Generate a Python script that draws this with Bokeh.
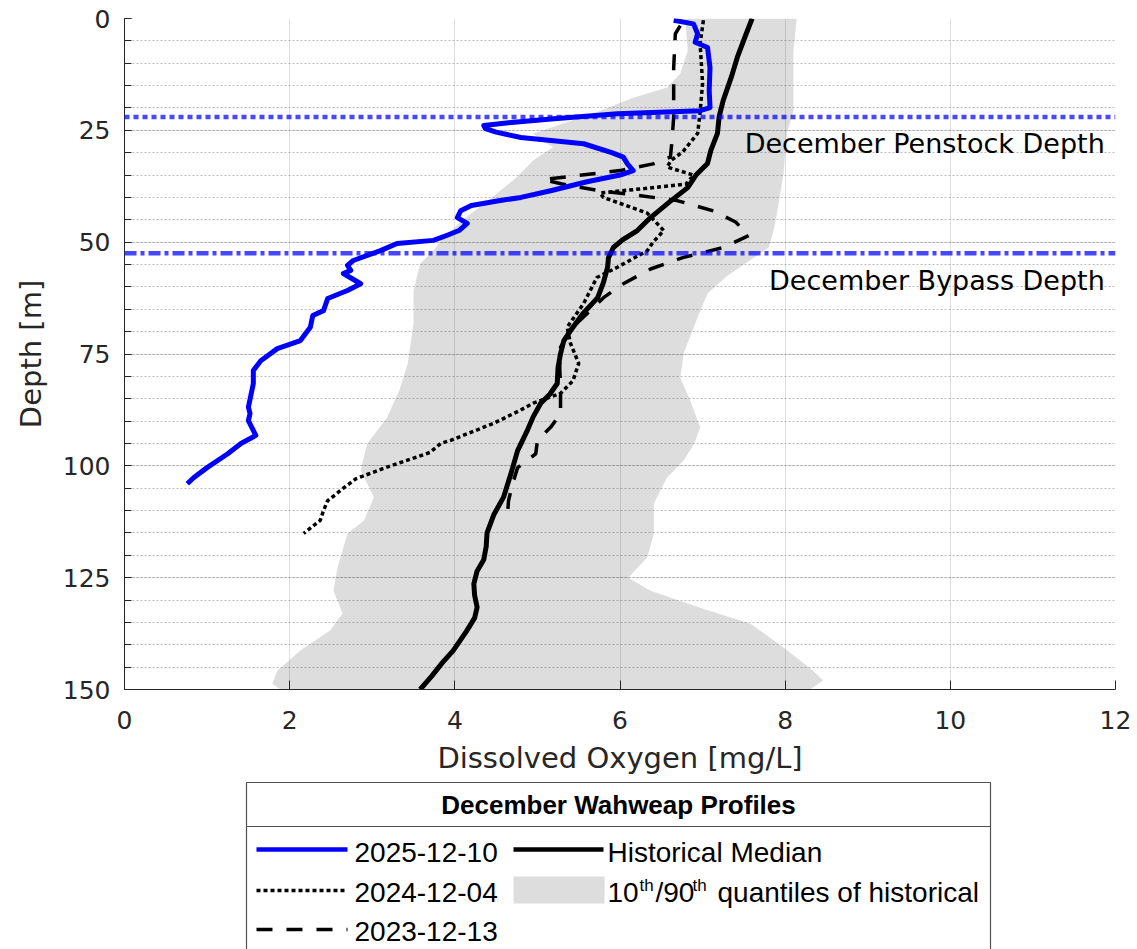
from bokeh.plotting import figure
from bokeh.layouts import column
from bokeh.models import Range1d, Span, FixedTicker
from bokeh.core.properties import value
from bokeh.embed import file_html
from bokeh.resources import INLINE

# ---------------- data ----------------
depth_2025 = [0.4, 1.2, 3.4, 5.3, 6.5, 11.0, 16.0, 19.9, 20.6, 21.3,
              22.4, 23.3, 23.9, 24.6, 25.4, 26.6, 28.0, 30.0, 31.0, 32.5,
              34.0, 35.0, 36.5, 38.5, 40.0, 40.7, 41.8, 43.0, 44.5, 45.8,
              47.4, 48.5, 49.6, 50.3, 51.9, 54.1, 55.2, 56.3, 57.0, 59.3,
              60.8, 62.6, 65.3, 66.4, 69.0, 72.0, 73.8, 76.5, 78.7, 81.6,
              86.9, 88.3, 89.9, 93.2, 95.0, 97.3, 100.4, 102.6, 104.0]
do_2025 = [6.65, 6.89, 6.94, 6.91, 7.06, 7.09, 7.08, 7.09, 6.97, 5.97,
           5.20, 4.65, 4.35, 4.37, 4.50, 4.80, 5.56, 5.90, 6.04, 6.09,
           6.16, 6.00, 5.60, 5.16, 4.80, 4.55, 4.20, 4.07, 4.03, 4.15,
           4.05, 3.90, 3.74, 3.30, 3.10, 2.77, 2.70, 2.74, 2.65, 2.86,
           2.70, 2.46, 2.41, 2.28, 2.25, 2.13, 1.85, 1.65, 1.56, 1.56,
           1.50, 1.52, 1.50, 1.59, 1.41, 1.25, 1.00, 0.84, 0.76]

depth_2024 = [0.4, 5.6, 14.5, 21.0, 25.7, 29.8, 31.7, 33.2, 35.0, 37.0,
              38.0, 39.0, 40.0, 43.5, 47.4, 50.0, 51.9, 55.6, 57.9, 63.7,
              69.0, 72.6, 77.1, 81.0, 83.8, 86.0, 87.6, 90.5, 94.3, 95.0,
              97.0, 100.4, 102.9, 105.0, 107.8, 110.0, 112.2, 115.1]
do_2024 = [7.01, 6.97, 7.00, 6.97, 6.94, 6.76, 6.62, 6.57, 6.89, 6.80,
           6.30, 5.76, 5.80, 6.33, 6.53, 6.40, 6.33, 5.97, 5.72, 5.56,
           5.36, 5.40, 5.50, 5.43, 5.28, 4.95, 4.79, 4.47, 3.95, 3.83,
           3.70, 3.16, 2.80, 2.65, 2.46, 2.41, 2.37, 2.17]

depth_2023 = [1.6, 3.4, 11.0, 22.0, 27.3, 31.0, 32.5, 34.0, 35.3, 36.0,
              37.0, 38.5, 39.5, 40.7, 43.0, 45.5, 48.5, 51.2, 53.4, 56.0,
              59.3, 62.4, 69.0, 73.5, 78.0, 82.5, 88.3, 91.4, 94.3, 97.3,
              100.4, 104.0, 107.8, 110.4]
do_2023 = [6.73, 6.67, 6.65, 6.65, 6.63, 6.61, 6.40, 6.00, 5.40, 5.07,
           5.30, 5.75, 6.20, 6.69, 7.13, 7.40, 7.56, 7.25, 6.77, 6.37,
           6.04, 5.80, 5.43, 5.28, 5.27, 5.28, 5.28, 5.16, 5.00, 4.98,
           4.76, 4.70, 4.65, 4.64]

depth_median = [0.0, 3.8, 8.7, 13.0, 18.3, 22.0, 25.7, 29.5, 32.4, 35.0,
                37.8, 41.0, 44.5, 47.4, 49.5, 51.2, 53.5, 55.6, 59.0, 62.4,
                66.0, 69.8, 72.0, 74.9, 78.0, 81.6, 84.0, 86.0, 89.0, 92.0,
                96.6, 101.7, 107.0, 111.0, 115.0, 118.0, 121.0, 123.5, 126.4, 129.0,
                131.6, 134.0, 137.0, 141.3, 144.0, 147.0, 150.0]
do_median = [7.60, 7.52, 7.42, 7.35, 7.25, 7.20, 7.18, 7.10, 7.06, 6.92,
             6.82, 6.60, 6.37, 6.21, 6.03, 5.92, 5.86, 5.85, 5.80, 5.73,
             5.55, 5.40, 5.32, 5.28, 5.25, 5.24, 5.15, 5.04, 4.95, 4.88,
             4.76, 4.68, 4.59, 4.47, 4.39, 4.38, 4.35, 4.27, 4.23, 4.24,
             4.27, 4.24, 4.14, 3.98, 3.85, 3.72, 3.58]

depth_q10 = [0.0, 7.2, 12.3, 15.4, 17.7, 20.6, 24.4, 25.7, 27.3, 28.8,
             31.7, 35.5, 40.0, 45.0, 49.6, 51.9, 54.8, 60.8, 68.2, 77.1,
             83.0, 89.2, 95.0, 101.0, 107.0, 112.2, 115.1, 122.7, 127.9, 133.0,
             136.8, 141.3, 145.8, 148.7, 150.0]
do_q10 = [6.79, 6.82, 6.73, 6.57, 6.16, 5.76, 5.16, 4.95, 5.05, 5.19,
          4.95, 4.75, 4.45, 4.10, 3.83, 3.74, 3.58, 3.50, 3.50, 3.43,
          3.33, 3.18, 2.94, 2.86, 3.02, 2.90, 2.70, 2.58, 2.53, 2.64,
          2.49, 2.13, 1.85, 1.79, 1.89]

depth_q90 = [0.0, 7.2, 20.6, 25.7, 34.7, 43.6, 47.4, 51.2, 54.0, 57.5,
             61.5, 66.8, 74.9, 80.3, 85.4, 91.4, 95.0, 98.8, 102.6, 108.4,
             115.1, 120.5, 123.0, 125.0, 127.9, 131.7, 135.3, 140.6, 145.8, 148.0,
             150.0]
do_q90 = [8.14, 8.10, 8.10, 8.02, 7.98, 7.90, 7.86, 7.80, 7.58, 7.30,
          7.06, 6.94, 6.77, 6.73, 6.85, 6.97, 6.90, 6.77, 6.57, 6.41,
          6.41, 6.33, 6.20, 6.10, 6.37, 6.97, 7.58, 7.98, 8.34, 8.46,
          8.30]

penstock_depth = 22.0
bypass_depth = 52.5

x_ticks = [0, 2, 4, 6, 8, 10, 12]
y_ticks = [0, 25, 50, 75, 100, 125, 150]
y_minor_ticks = list(range(0, 151, 5))

series_labels = ["2025-12-10", "2024-12-04", "2023-12-13"]
legend_title = "December Wahweap Profiles"

# ---------------- styles ----------------
AX = "#262626"
TICK_FONT = "DejaVu Sans"
LEG_FONT = "Liberation Sans"
GRAY = "#dddddd"
DOT = "4 3"
DASH = "16 14"

p = figure(width=1137, height=780, x_range=Range1d(0, 12), y_range=Range1d(150, 0),
           output_backend="svg", toolbar_location=None,
           min_border_left=124, min_border_right=22, min_border_top=18, min_border_bottom=91,
           x_axis_label="Dissolved Oxygen [mg/L]", y_axis_label="Depth [m]")
p.outline_line_color = None
p.background_fill_color = "white"
p.border_fill_color = "white"

p.xaxis.ticker = FixedTicker(ticks=x_ticks)
p.yaxis.ticker = FixedTicker(ticks=y_ticks, minor_ticks=y_minor_ticks)
for ax in (p.xaxis[0], p.yaxis[0]):
    ax.axis_line_color = AX
    ax.major_tick_line_color = AX
    ax.minor_tick_line_color = AX
    ax.major_tick_out = 0
    ax.minor_tick_out = 0
    ax.major_label_text_font = TICK_FONT
    ax.major_label_text_font_size = "25px"
    ax.major_label_text_color = AX
    ax.axis_label_text_font = TICK_FONT
    ax.axis_label_text_font_size = "29px"
    ax.axis_label_text_font_style = "normal"
    ax.axis_label_text_color = AX
p.xaxis.major_tick_in = 9
p.xaxis.minor_tick_in = 0
p.xaxis.major_label_standoff = 21
p.xaxis.axis_label_standoff = 9
p.yaxis.major_tick_in = 7
p.yaxis.minor_tick_in = 7
p.yaxis.major_label_standoff = 14
p.yaxis.axis_label_standoff = 12

p.xgrid.grid_line_color = AX
p.xgrid.grid_line_alpha = 0.15
p.ygrid.grid_line_color = AX
p.ygrid.grid_line_alpha = 0.15
p.ygrid.minor_grid_line_color = AX
p.ygrid.minor_grid_line_alpha = 0.3
p.ygrid.minor_grid_line_dash = "2 2"

# quantile band
band_x = do_q10 + do_q90[::-1]
band_y = depth_q10 + depth_q90[::-1]
p.patch(band_x, band_y, fill_color=GRAY, line_color=None, level="image")

p.line(do_median, depth_median, line_color="black", line_width=5, line_join="round")
p.line(do_2023, depth_2023, line_color="black", line_width=3.5, line_dash=DASH)
p.line(do_2024, depth_2024, line_color="black", line_width=3.5, line_dash=DOT)
p.line(do_2025, depth_2025, line_color="blue", line_width=5, line_join="round")

p.add_layout(Span(location=penstock_depth, dimension="width", line_color="blue",
                  line_alpha=0.72, line_width=4.5, line_dash="5 4"))
p.add_layout(Span(location=bypass_depth, dimension="width", line_color="blue",
                  line_alpha=0.72, line_width=4.5, line_dash="12 4 4 4"))

label_x = 11.87
p.text(x=[label_x, label_x], y=[penstock_depth + 6.0, bypass_depth + 6.1],
       text=["December Penstock Depth", "December Bypass Depth"],
       text_align="right", text_baseline="alphabetic",
       text_font=value(TICK_FONT), text_font_size="27px", text_color="black")

# ---------------- legend panel (screen-pixel coordinates) ----------------
# frame aligned with the main plot frame (x pixels 124..1115)
lg = figure(width=1137, height=169, x_range=Range1d(124, 1115), y_range=Range1d(949, 780),
            output_backend="svg", toolbar_location=None,
            min_border_left=124, min_border_right=22, min_border_top=0, min_border_bottom=0,
            x_axis_type=None, y_axis_type=None)
lg.grid.visible = False
lg.outline_line_color = None
lg.background_fill_color = "white"
lg.border_fill_color = "white"

box_l, box_r, box_t = 246, 990, 782
lg.quad(left=box_l, right=box_r, top=box_t, bottom=960, fill_color="white",
        line_color="#505050", line_width=1.2)
lg.segment(x0=box_l, y0=826, x1=box_r, y1=826, line_color="#505050", line_width=1.2)
lg.text(x=[(box_l + box_r) / 2], y=[804], text=[legend_title], text_align="center",
        text_baseline="alphabetic", text_font=value(LEG_FONT), text_font_style="bold",
        text_font_size="26px", text_color="black")

rows = [849, 890, 929]
bases = [852, 892, 931]
s0, s1, tx = 256, 347, 354
lg.line([s0, s1], [rows[0], rows[0]], line_color="blue", line_width=4.5)
lg.line([s0, s1], [rows[1], rows[1]], line_color="black", line_width=3.5, line_dash=DOT)
lg.line([s0, s1], [rows[2], rows[2]], line_color="black", line_width=3.5, line_dash=DASH)
lg.text(x=[tx] * 3, y=bases, text=series_labels, text_baseline="alphabetic",
        text_font=value(LEG_FONT), text_font_size="28px", text_color="black")

c0, c1, tx2 = 513, 603, 607
lg.line([c0, c1], [rows[0], rows[0]], line_color="black", line_width=4.5)
lg.quad(left=c0, right=c1 + 1, top=876, bottom=903, fill_color=GRAY, line_color=None)
lg.text(x=[tx2], y=[bases[0]], text=["Historical Median"], text_baseline="alphabetic",
        text_font=value(LEG_FONT), text_font_size="28px", text_color="black")
lg.text(x=[tx2, 655, 717], y=[bases[1]] * 3, text=["10", "/90", "quantiles of historical"],
        text_baseline="alphabetic", text_font=value(LEG_FONT), text_font_size="28px",
        text_color="black")
lg.text(x=[639, 692], y=[885, 885], text=["th", "th"], text_baseline="alphabetic",
        text_font=value(LEG_FONT), text_font_size="17px", text_color="black")

layout = column(p, lg, spacing=0)
open("out.html", "w").write(file_html(layout, INLINE))
